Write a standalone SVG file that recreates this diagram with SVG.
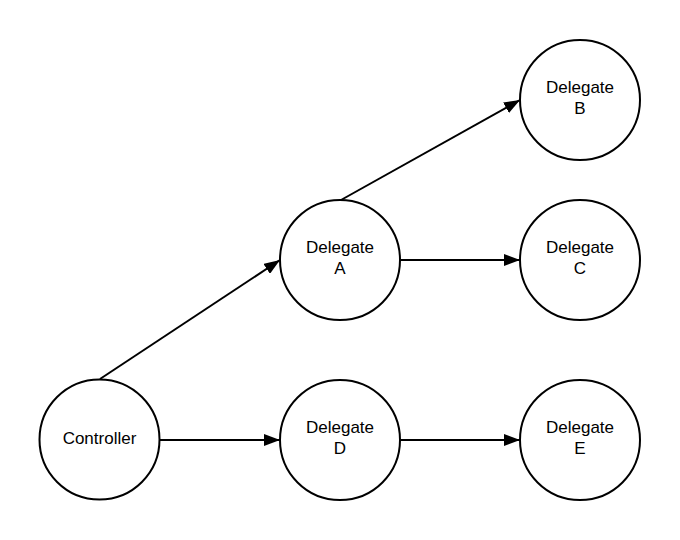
<svg xmlns="http://www.w3.org/2000/svg" width="680" height="540" viewBox="0 0 680 540">
<style>
.node circle{fill:#fff;stroke:#000;stroke-width:2}
.node text{font-family:"Liberation Sans",Arial,sans-serif;font-size:17px;fill:#000;text-anchor:middle}
#connectors line{stroke:#000;stroke-width:2;fill:none}
</style>
<defs>
<marker id="arrow" markerUnits="userSpaceOnUse" markerWidth="17" markerHeight="12" refX="16" refY="6" orient="auto">
<path d="M0,0 L16,6 L0,12 Z" fill="#000"/>
</marker>
</defs>
<rect width="680" height="540" fill="#fff"/>
<g id="connectors">
<line x1="100" y1="379" x2="280" y2="260" marker-end="url(#arrow)"/>
<line x1="341" y1="200" x2="520" y2="100" marker-end="url(#arrow)"/>
<line x1="400" y1="260" x2="520" y2="260" marker-end="url(#arrow)"/>
<line x1="160" y1="440" x2="280" y2="440" marker-end="url(#arrow)"/>
<line x1="400" y1="440" x2="520" y2="440" marker-end="url(#arrow)"/>
</g>
<g id="controller" class="node">
<circle cx="99.5" cy="439.5" r="60"/>
<text x="99.5" y="443.5">Controller</text>
</g>
<g id="delegate-a" class="node">
<circle cx="340" cy="260" r="60"/>
<text x="340" y="252.5">Delegate</text>
<text x="340" y="274">A</text>
</g>
<g id="delegate-b" class="node">
<circle cx="580" cy="100" r="60"/>
<text x="580" y="92.5">Delegate</text>
<text x="580" y="114">B</text>
</g>
<g id="delegate-c" class="node">
<circle cx="580" cy="260" r="60"/>
<text x="580" y="252.5">Delegate</text>
<text x="580" y="274">C</text>
</g>
<g id="delegate-d" class="node">
<circle cx="340" cy="440" r="60"/>
<text x="340" y="432.5">Delegate</text>
<text x="340" y="454">D</text>
</g>
<g id="delegate-e" class="node">
<circle cx="580" cy="440" r="60"/>
<text x="580" y="432.5">Delegate</text>
<text x="580" y="454">E</text>
</g>
</svg>
